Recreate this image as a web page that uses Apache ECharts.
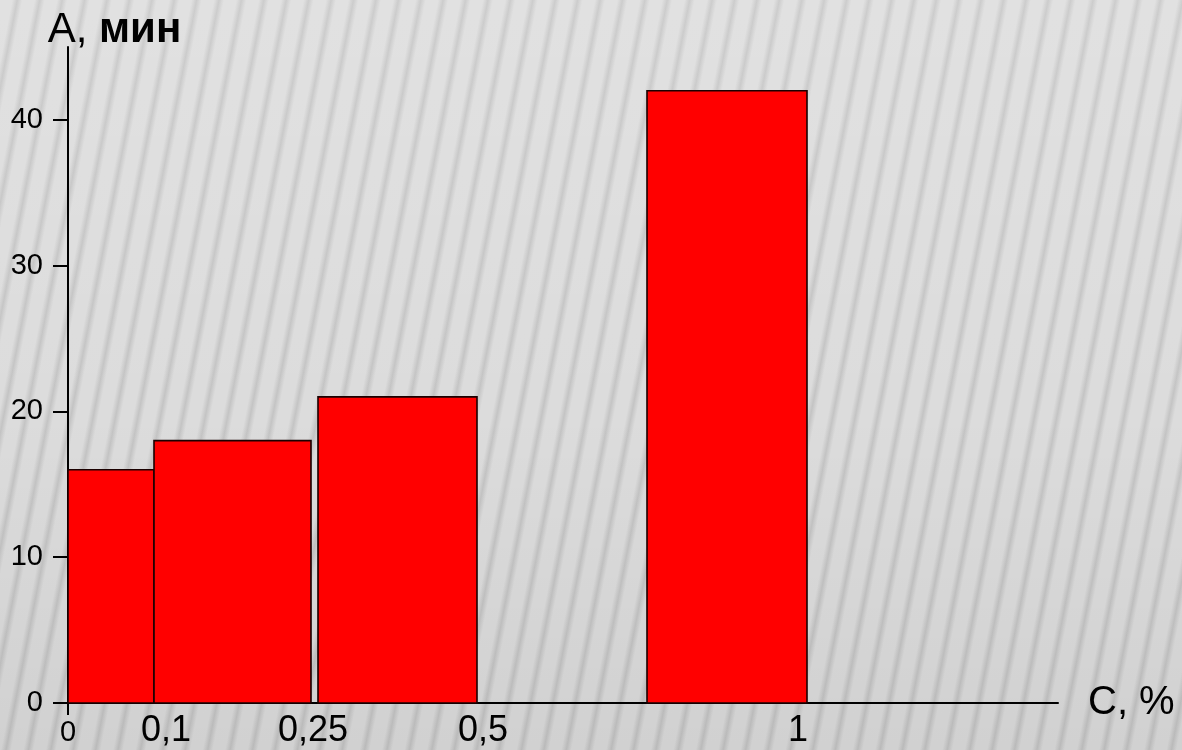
<!DOCTYPE html>
<html><head><meta charset="utf-8">
<script src="https://cdn.jsdelivr.net/npm/echarts@6/dist/echarts.min.js"></script>
<style>
html,body{margin:0;padding:0;width:1182px;height:750px;overflow:hidden;}
body{
  background-color:#dcdcdc;
  background-image:
    linear-gradient(180deg, rgba(255,255,255,0.15) 0%, rgba(255,255,255,0) 55%, rgba(0,0,0,0.05) 100%),
    repeating-linear-gradient(101deg, rgba(120,120,120,0) 0px, rgba(120,120,120,0) 12px, rgba(120,120,120,0.14) 15px, rgba(120,120,120,0.24) 17px, rgba(120,120,120,0.14) 19px, rgba(120,120,120,0) 22px);
}
#chart{width:1182px;height:750px;}
</style></head><body><div id="chart"></div>
<script>
// Histogram-like bars: interval on a schematic concentration axis, height = A (min)
const intervalStart = [0, 8.6, 25.0, 57.9];
const intervalEnd   = [8.6, 24.3, 40.9, 73.9];
const durationMin   = [16, 18, 21, 42];
// Concentration tick labels and their positions on the schematic axis
const concentrationLabels = ['0', '0,1', '0,25', '0,5', '1'];
const concentrationPos    = [0, 9.8, 24.5, 41.5, 73.0];
const yTickValues = [0, 10, 20, 30, 40];

const FONT = "'Liberation Sans', Arial, sans-serif";
const NARROW = "'Liberation Sans Narrow', 'Liberation Sans', Arial, sans-serif";
const chart = echarts.init(document.getElementById('chart'), null, {renderer: 'canvas'});

const barData = intervalStart.map((s, i) => [s, intervalEnd[i], durationMin[i]]);

function labelFor(v) {
  let best = 0, bd = Infinity;
  concentrationPos.forEach((p, i) => { const d = Math.abs(p - v); if (d < bd) { bd = d; best = i; } });
  return best === 0 ? '{s|' + concentrationLabels[best] + '}' : '{b|' + concentrationLabels[best] + '}';
}

chart.setOption({
  backgroundColor: 'transparent',
  animation: false,
  grid: {left: 68, right: 124, top: 47, bottom: 47, containLabel: false, outerBoundsMode: 'none'},
  xAxis: {
    type: 'value', min: 0, max: 99,
    splitLine: {show: false},
    axisLine: {show: true, lineStyle: {color: '#000', width: 2}},
    axisTick: {show: true, customValues: [0], length: 12, lineStyle: {color: '#000', width: 2}},
    axisLabel: {
      customValues: concentrationPos, margin: 10, verticalAlign: 'top',
      formatter: labelFor,
      rich: {
        s: {fontSize: 29, fontFamily: NARROW, color: '#000', padding: [5, 0, 0, 0]},
        b: {fontSize: 36, fontFamily: NARROW, color: '#000'}
      }
    },
    name: 'С, %', nameLocation: 'end', nameGap: 30,
    nameTextStyle: {fontSize: 40, fontFamily: FONT, color: '#000', align: 'left', verticalAlign: 'middle'}
  },
  yAxis: {
    type: 'value', min: 0, max: 45,
    splitLine: {show: false},
    axisLine: {show: true, lineStyle: {color: '#000', width: 2}},
    axisTick: {show: true, customValues: yTickValues, length: 15, lineStyle: {color: '#000', width: 2}},
    axisLabel: {customValues: yTickValues, margin: 25, fontSize: 29, fontFamily: NARROW, color: '#000'},
    name: '{a|А, }{b|мин}', nameLocation: 'end', nameGap: -4,
    nameTextStyle: {
      align: 'center', padding: [0, 0, 0, 93],
      rich: {
        a: {fontSize: 42, fontFamily: FONT, color: '#000'},
        b: {fontSize: 42, fontFamily: FONT, color: '#000', fontWeight: 'bold'}
      }
    }
  },
  series: [{
    type: 'custom',
    data: barData,
    encode: {x: [0, 1], y: 2},
    renderItem: function (params, api) {
      const tl = api.coord([api.value(0), api.value(2)]);
      const br = api.coord([api.value(1), 0]);
      return {
        type: 'rect',
        shape: {x: tl[0], y: tl[1], width: br[0] - tl[0], height: br[1] - tl[1]},
        style: {fill: '#ff0000', stroke: '#1a0000', lineWidth: 1.6}
      };
    }
  }]
});
</script>
</body></html>
